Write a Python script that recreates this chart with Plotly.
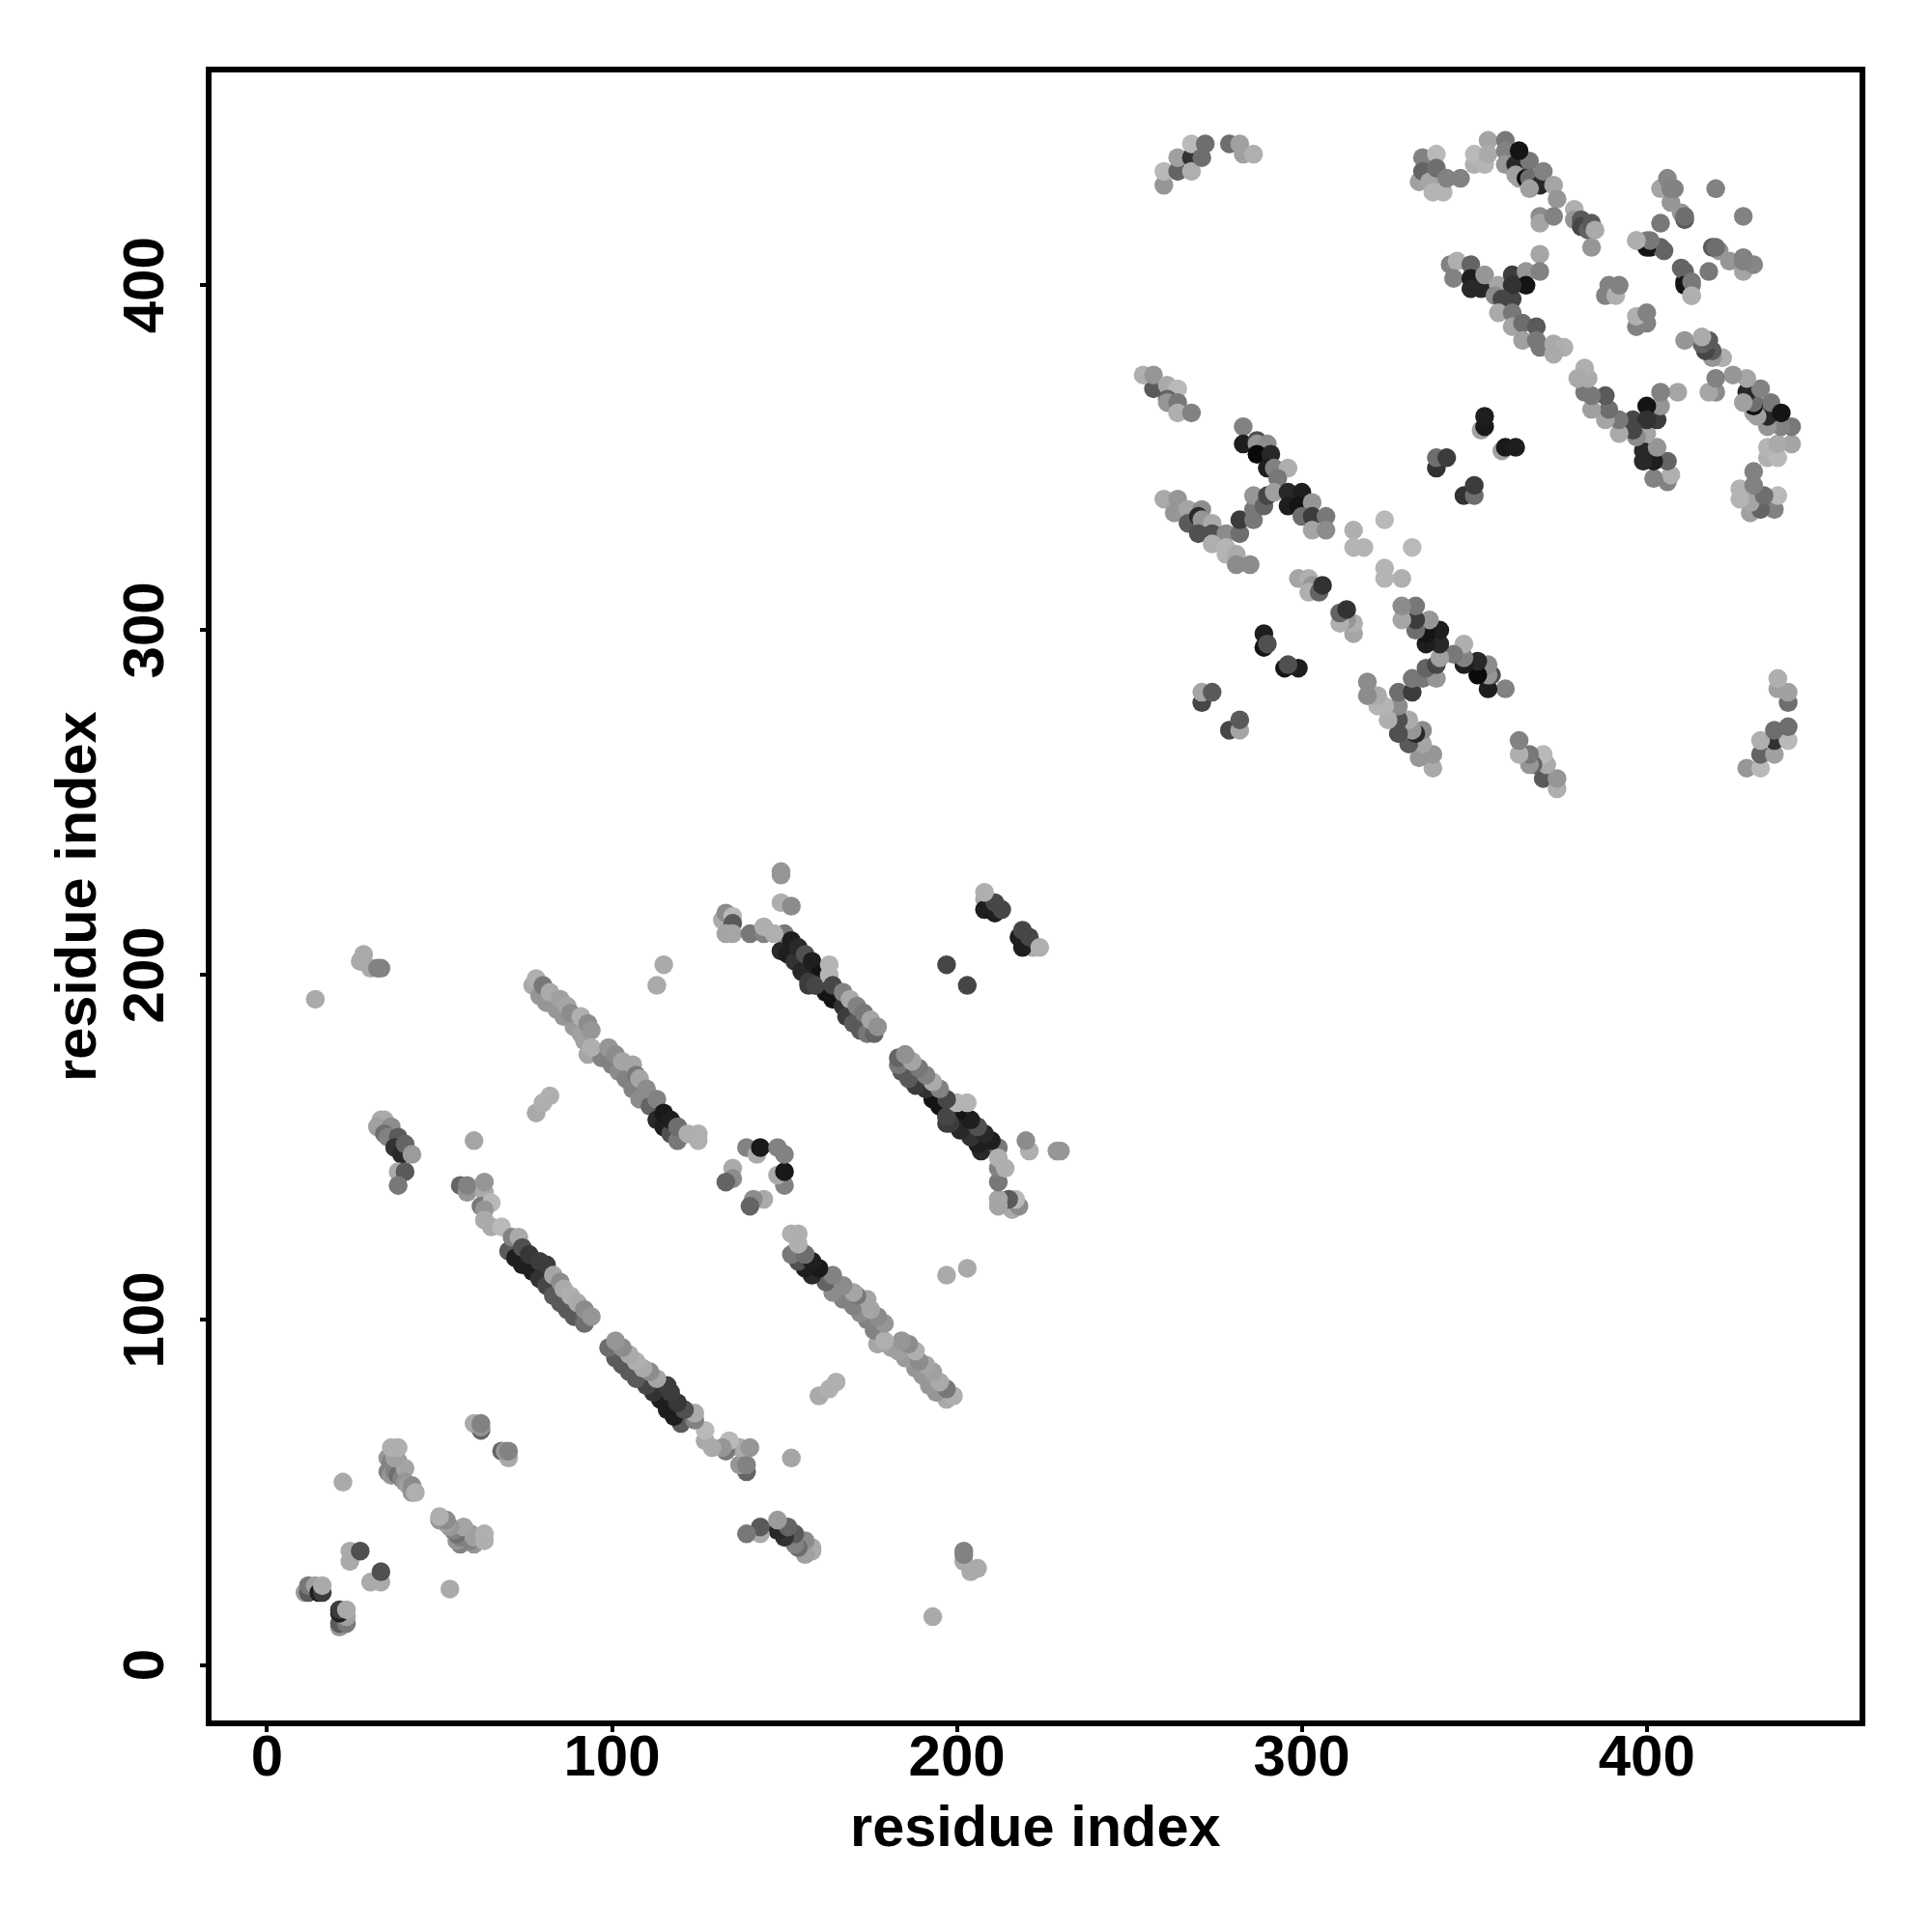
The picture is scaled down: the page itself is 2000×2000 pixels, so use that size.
import plotly.graph_objects as go

# Each group: residue i, residue j, grey level (0-255). The contact map is symmetric.
sparse_i = [14, 22, 24, 24, 27, 60, 78, 80, 82, 93, 113, 115, 28, 27, 30, 32, 33, 197]
sparse_j = [193, 53, 33, 30, 33, 152, 160, 163, 165, 177, 197, 203, 206, 204, 202, 202, 202, 203]
sparse_g = [170, 170, 170, 170, 80, 165, 170, 175, 175, 165, 170, 170, 170, 170, 170, 130, 130, 70]

corner_i = [11, 12, 12, 14, 15, 16, 16]
corner_j = [21, 21, 23, 23, 21, 21, 23]
corner_g = [150, 90, 120, 160, 30, 60, 170]

c36_i = [35, 36, 35, 38, 36, 37, 38, 36, 38, 39, 40, 37, 40, 41, 42, 42, 43, 36, 38]
c36_j = [60, 58, 56, 57, 55, 56, 59, 59, 55, 54, 57, 60, 53, 52, 50, 52, 50, 63, 63]
c36_g = [150, 140, 130, 150, 150, 130, 150, 130, 110, 130, 165, 160, 150, 160, 150, 140, 175, 175, 175]

c60_i = [62, 60, 62, 62, 56, 58, 58, 63, 63, 62, 65, 63, 63, 65, 68]
c60_j = [68, 70, 69, 70, 139, 137, 139, 137, 140, 133, 134, 132, 129, 127, 127]
c60_g = [100, 170, 150, 130, 100, 150, 130, 170, 150, 120, 185, 150, 170, 170, 185]

c150_i = [33, 34, 32, 36, 34, 35, 38, 37, 39, 40, 42, 38, 40, 38]
c150_j = [158, 158, 156, 156, 154, 153, 153, 150, 148, 151, 148, 143, 143, 139]
c150_g = [170, 170, 160, 140, 110, 130, 90, 50, 40, 100, 155, 170, 90, 120]

strand_a_i = [70, 72, 74, 77, 79, 81, 83, 85, 87, 89, 92, 71, 73, 74, 76, 79, 81, 83, 85, 86, 88, 90, 92, 94]
strand_a_j = [120, 118, 116, 114, 112, 110, 107, 105, 103, 101, 99, 124, 124, 121, 119, 117, 116, 113, 111, 109, 107, 105, 103, 101]
strand_a_g = [90, 30, 30, 30, 50, 70, 90, 90, 90, 90, 110, 130, 170, 80, 55, 60, 60, 165, 140, 170, 175, 170, 140, 150]

strand_b_i = [77, 79, 81, 84, 86, 89, 91, 92, 97, 100, 102, 104, 106, 108, 111, 113, 115, 117, 119, 119, 78, 80, 82, 85, 87, 88, 91, 93, 94, 94, 99, 101, 103, 106, 107, 108, 110, 113, 115, 117, 119, 122, 125, 125]
strand_b_j = [197, 194, 192, 190, 188, 185, 183, 181, 176, 174, 172, 170, 167, 164, 162, 158, 156, 154, 152, 156, 199, 197, 195, 193, 191, 189, 188, 186, 184, 179, 179, 177, 175, 174, 171, 170, 167, 164, 160, 158, 156, 154, 154, 152]
strand_b_g = [170, 150, 150, 150, 150, 155, 160, 160, 130, 130, 140, 130, 130, 140, 100, 40, 30, 80, 120, 110, 175, 120, 170, 160, 165, 140, 175, 140, 150, 175, 150, 140, 165, 165, 120, 165, 140, 130, 25, 30, 110, 175, 175, 175]

strand_c_i = [149, 151, 153, 155, 157, 159, 162, 164, 167, 168, 170, 172, 174, 176, 150, 152, 154, 156, 158, 160, 157, 159, 163, 163, 164, 167, 169, 171, 173, 175, 177]
strand_c_j = [207, 206, 204, 201, 197, 197, 195, 193, 191, 188, 186, 184, 183, 183, 212, 210, 208, 206, 204, 200, 198, 197, 203, 200, 197, 195, 193, 191, 189, 187, 185]
strand_c_g = [40, 30, 50, 40, 60, 70, 20, 20, 50, 60, 90, 90, 120, 100, 120, 30, 40, 80, 30, 20, 60, 70, 180, 180, 70, 130, 170, 130, 120, 165, 145]

c215_i = [132, 133, 135, 135, 133, 135, 140, 144, 144, 147, 149, 149, 149, 152, 208, 208, 211, 211, 213, 208]
c215_j = [216, 218, 217, 215, 212, 212, 212, 212, 214, 212, 230, 229, 221, 220, 222, 219, 218, 221, 219, 224]
c215_g = [170, 140, 185, 90, 165, 165, 120, 130, 175, 175, 150, 150, 175, 140, 170, 30, 30, 70, 70, 175]

c145_i = [139, 142, 143, 135, 135, 133, 148]
c145_j = [150, 148, 150, 144, 141, 140, 150]
c145_g = [130, 170, 25, 170, 140, 100, 130]

top_i = [260, 260, 264, 264, 268, 268, 268, 271, 272, 279, 282, 283, 286]
top_j = [429, 433, 433, 437, 437, 433, 441, 437, 441, 441, 441, 438, 438]
top_g = [150, 185, 100, 160, 50, 175, 185, 110, 110, 110, 160, 160, 175]

left_i = [257, 254, 257, 261, 264, 261, 261, 264, 264, 268]
left_j = [370, 374, 374, 371, 370, 367, 366, 366, 363, 363]
left_g = [90, 175, 150, 170, 185, 100, 150, 120, 175, 130]

mid_low_i = [260, 264, 263, 267, 271, 267, 270, 271, 274, 270, 274, 278, 274, 278, 278, 281, 281, 285]
mid_low_j = [338, 338, 334, 335, 335, 331, 333, 332, 331, 328, 328, 328, 325, 324, 322, 322, 319, 319]
mid_low_g = [170, 150, 150, 165, 140, 90, 40, 150, 170, 80, 80, 140, 175, 180, 180, 170, 140, 140]

mid_branch_i = [282, 282, 286, 286, 286, 289, 290]
mid_branch_j = [328, 332, 332, 335, 339, 336, 339]
mid_branch_g = [110, 60, 120, 120, 150, 100, 70]

mid_high_i = [283, 283, 287, 287, 290, 287, 291, 290, 292, 296, 293, 292, 296, 300, 296, 299, 303, 300, 303, 307, 303, 307]
mid_high_j = [359, 354, 355, 354, 354, 351, 351, 347, 347, 347, 344, 340, 340, 340, 336, 336, 337, 333, 333, 333, 329, 329]
mid_high_g = [130, 30, 80, 150, 140, 10, 40, 30, 130, 175, 120, 160, 40, 30, 30, 20, 150, 110, 60, 120, 165, 140]

pale_i = [315, 324, 315, 318, 299, 302, 303, 302, 305, 306, 289, 289, 290, 271, 271, 274]
pale_j = [329, 332, 324, 324, 315, 315, 313, 311, 311, 313, 299, 295, 296, 279, 282, 282]
pale_g = [175, 185, 180, 180, 165, 175, 150, 175, 100, 50, 30, 20, 80, 70, 165, 90]

dark_i = [339, 339, 342, 352, 353, 353]
dark_j = [347, 350, 350, 358, 359, 362]
dark_g = [50, 110, 60, 160, 25, 30]

tl_i = [334, 335, 335, 337, 339, 339, 338, 341, 342, 346, 350, 350, 353, 354, 354]
tl_j = [430, 437, 433, 430, 438, 434, 427, 427, 431, 431, 435, 438, 435, 442, 438]
tl_g = [160, 130, 100, 165, 185, 110, 180, 180, 130, 130, 175, 185, 180, 165, 170]

th_i = [359, 359, 359, 362, 362, 366, 363, 365, 366, 369, 370, 366, 373, 374, 369, 369, 373, 363]
th_j = [442, 439, 435, 435, 432, 436, 431, 431, 431, 429, 433, 428, 429, 425, 420, 418, 420, 439]
th_g = [120, 130, 150, 40, 160, 120, 160, 15, 110, 40, 130, 160, 165, 150, 140, 165, 130, 20]

h380_i = [379, 379, 381, 381, 383, 384, 384, 385]
h380_j = [422, 419, 419, 417, 416, 418, 411, 416]
h380_g = [175, 150, 90, 70, 100, 90, 150, 170]

h405_i = [397, 400, 401, 404, 404, 406, 407, 407, 408, 410, 411, 411, 420, 404]
h405_j = [413, 413, 411, 428, 418, 431, 424, 428, 428, 421, 419, 420, 428, 411]
h405_g = [175, 130, 20, 165, 120, 135, 150, 130, 130, 150, 90, 110, 130, 100]

h400_i = [410, 411, 413, 413]
h400_j = [405, 400, 401, 397]
h400_g = [100, 20, 120, 175]

s345_i = [343, 345, 349, 344, 349, 349, 352, 353, 357, 356, 361, 361, 365, 369, 369, 365, 361, 358, 357, 361, 361, 364, 368, 364, 368, 369, 373, 376, 373]
s345_j = [406, 407, 406, 402, 402, 399, 399, 403, 400, 397, 396, 403, 404, 409, 404, 400, 400, 396, 392, 392, 388, 389, 388, 384, 384, 382, 383, 382, 380]
s345_g = [130, 175, 100, 130, 30, 40, 40, 150, 165, 140, 70, 60, 150, 165, 130, 20, 50, 70, 170, 120, 165, 110, 90, 160, 120, 120, 170, 175, 170]

h392_i = [389, 388, 391, 392]
h392_j = [400, 397, 397, 400]
h392_g = [130, 130, 175, 130]

tick_values = [0, 100, 200, 300, 400]
axis_label = "residue index"

groups = [
    (sparse_i, sparse_j, sparse_g), (corner_i, corner_j, corner_g), (c36_i, c36_j, c36_g),
    (c60_i, c60_j, c60_g), (c150_i, c150_j, c150_g), (strand_a_i, strand_a_j, strand_a_g),
    (strand_b_i, strand_b_j, strand_b_g), (strand_c_i, strand_c_j, strand_c_g),
    (c215_i, c215_j, c215_g), (c145_i, c145_j, c145_g), (top_i, top_j, top_g),
    (left_i, left_j, left_g), (mid_low_i, mid_low_j, mid_low_g),
    (mid_branch_i, mid_branch_j, mid_branch_g), (mid_high_i, mid_high_j, mid_high_g),
    (pale_i, pale_j, pale_g), (dark_i, dark_j, dark_g), (tl_i, tl_j, tl_g), (th_i, th_j, th_g),
    (h380_i, h380_j, h380_g), (h405_i, h405_j, h405_g), (h400_i, h400_j, h400_g),
    (s345_i, s345_j, s345_g), (h392_i, h392_j, h392_g),
]
for n, g in enumerate(groups):
    assert len(g[0]) == len(g[1]) == len(g[2]), (n, len(g[0]), len(g[1]), len(g[2]))

xs, ys, cols = [], [], []
for a, b, c in groups:
    xs += a + b
    ys += b + a
    cols += [f"rgb({v},{v},{v})" for v in c] * 2

fig = go.Figure(go.Scatter(x=xs, y=ys, mode="markers", cliponaxis=False,
                           marker=dict(size=19.5, color=cols, opacity=1, line=dict(width=0))))

FONT = "Liberation Sans"
axis = dict(showgrid=False, zeroline=False, showline=True, mirror=True, linecolor="black", linewidth=6,
            ticks="outside", ticklen=6, tickwidth=4, tickcolor="black", tickvals=tick_values,
            automargin=False)
title_font = dict(family=FONT, size=59.5, color="black", weight="bold")
fig.update_layout(width=2000, height=2000, autosize=False, showlegend=False,
                  paper_bgcolor="white", plot_bgcolor="white",
                  margin=dict(l=210.5, r=83, t=67.2, b=226.5, pad=0),
                  xaxis=dict(axis, range=[-16.1, 461.7], ticklabelstandoff=-27,
                             tickfont=dict(family=FONT, size=60, color="black", weight="bold")),
                  yaxis=dict(axis, range=[-16.1, 461.7], tickangle=-90, ticklabelstandoff=14,
                             ticklabelshift=9,
                             tickfont=dict(family=FONT, size=60, color="black", weight="bold")),
                  annotations=[
                      dict(text=axis_label, xref="paper", yref="paper", x=0.5, y=0, yshift=-109,
                           xanchor="center", yanchor="middle", showarrow=False, font=title_font),
                      dict(text=axis_label, xref="paper", yref="paper", x=0, y=0.5, xshift=-141,
                           xanchor="center", yanchor="middle", textangle=-90, showarrow=False, font=title_font),
                  ])
fig.write_html("out.html")
